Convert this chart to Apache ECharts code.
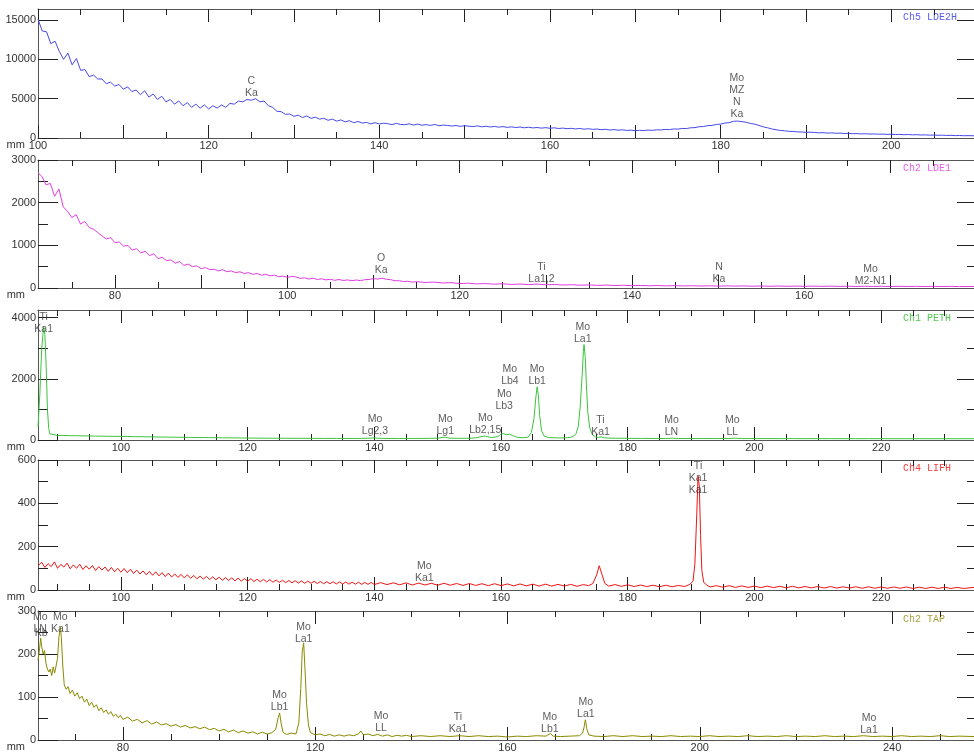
<!DOCTYPE html>
<html><head><meta charset="utf-8">
<script src="https://cdn.jsdelivr.net/npm/echarts@6/dist/echarts.min.js"></script>
<style>html,body{margin:0;padding:0;background:#fff}#c{width:974px;height:753px}</style>
</head><body><div id="c"></div><script>
// ---------- DATA (mm, counts) ----------
const ch5LDE2H = [[100,15100],[100.5,13600],[101,13500],[101.5,12000],[102,12300],[102.5,11000],[103,10000],[103.5,10800],[104,9300],[104.5,10100],[105,8600],[105.5,8700],[106,7800],[106.5,8000],[107,7500],[107.5,7500],[108,6900],[108.5,7100],[109,6600],[109.5,6800],[110,6200],[110.5,6500],[111,5900],[111.5,6100],[112,5500],[112.5,6000],[113,5200],[113.5,5600],[114,4900],[114.5,5300],[115,4600],[115.5,4900],[116,4300],[116.5,4700],[117,4100],[117.5,4500],[118,3900],[118.5,4300],[119,3800],[119.5,4200],[120,3700],[120.5,4100],[121,3800],[121.5,4200],[122,3900],[122.5,4400],[123,4300],[123.5,4700],[124,4600],[124.5,4900],[125,4800],[125.5,5000],[126,4600],[126.5,4700],[127,4100],[127.5,3900],[128,3400],[128.5,3350],[129,3000],[129.5,3050],[130,2750],[130.5,2900],[131,2600],[131.5,2800],[132,2500],[132.5,2650],[133,2400],[133.5,2500],[134,2250],[134.5,2400],[135,2150],[135.5,2300],[136,2050],[136.5,2200],[137,1950],[137.5,2100],[138,1900],[138.5,1980],[139,1800],[139.5,1950],[140,1780],[140.5,1880],[141,1820],[141.5,1700],[142,1860],[142.5,1720],[143,1690],[143.5,1800],[144,1650],[144.5,1760],[145,1620],[145.5,1700],[146,1600],[146.5,1720],[147,1560],[147.5,1640],[148,1600],[148.5,1520],[149,1580],[149.5,1480],[150,1560],[151,1450],[151.5,1540],[152,1420],[152.5,1500],[153,1400],[153.5,1470],[154,1380],[154.5,1450],[155,1350],[155.5,1420],[156,1330],[156.5,1400],[157,1300],[157.5,1370],[158,1280],[158.5,1340],[159,1250],[159.5,1320],[160,1230],[160.5,1300],[161,1200],[161.5,1260],[162,1180],[162.5,1230],[163,1150],[163.5,1210],[164,1120],[164.5,1180],[165,1100],[165.5,1140],[166,1060],[166.5,1110],[167,1020],[167.5,1070],[168,990],[168.5,1040],[169,960],[169.5,1000],[170,930],[170.5,980],[171,950],[171.5,1010],[172,970],[172.5,1040],[173,1020],[173.5,1090],[174,1070],[174.5,1150],[175,1130],[175.5,1210],[176,1200],[176.5,1300],[177,1320],[177.5,1440],[178,1460],[178.5,1580],[179,1600],[179.5,1720],[180,1760],[180.5,1900],[181,1950],[181.5,2120],[182,2150],[182.5,2080],[183,2000],[183.5,1850],[184,1760],[184.5,1600],[185,1420],[185.5,1300],[186,1150],[186.5,1050],[187,960],[187.5,920],[188,850],[188.5,830],[189,780],[189.5,760],[190,720],[190.5,740],[191,700],[191.5,660],[192,680],[192.5,630],[193,650],[193.5,600],[194,620],[194.5,570],[195,590],[195.5,540],[196,560],[196.5,520],[197,540],[197.5,500],[198,520],[198.5,480],[199,500],[199.5,460],[200,480],[200.5,440],[201,460],[201.5,420],[202,440],[202.5,400],[203,420],[203.5,380],[204,400],[204.5,360],[205,380],[205.5,340],[206,360],[206.5,320],[207,340],[207.5,300],[208,320],[208.5,290],[209,300],[209.7,280]];

const ch2LDE1 = [[71.07,2700],[71.5,2620],[72,2420],[72.5,2450],[73,2150],[73.5,2320],[74,1900],[74.5,1800],[75,1650],[75.5,1720],[76,1500],[76.5,1560],[77,1420],[77.5,1380],[78,1300],[78.5,1220],[79,1150],[79.5,1180],[80,1060],[80.5,1080],[81,980],[81.5,1000],[82,890],[82.5,920],[83,820],[83.5,860],[84,760],[84.5,800],[85,690],[85.5,720],[86,640],[86.5,660],[87,580],[87.5,620],[88,530],[88.5,560],[89,500],[89.5,520],[90,450],[90.5,480],[91,430],[91.5,440],[92,400],[92.5,430],[93,380],[93.5,400],[94,360],[94.5,380],[95,340],[95.5,360],[96,320],[96.5,340],[97,300],[97.5,320],[98,285],[98.5,300],[99,265],[99.5,280],[100,250],[100.5,270],[101,260],[101.5,225],[102,240],[102.5,210],[103,230],[103.5,200],[104,215],[104.5,190],[105,205],[105.5,180],[106,200],[106.5,175],[107,190],[107.5,170],[108,188],[108.5,172],[109,195],[109.5,200],[110,220],[110.5,210],[111,230],[111.5,205],[112,195],[112.5,170],[113,170],[113.5,150],[114,158],[114.5,138],[115,148],[116,130],[117,138],[118,118],[119,125],[120,105],[121,112],[122,96],[123,104],[124,90],[125,98],[126,84],[127,92],[128,80],[129,92],[130,76],[131,82],[132,70],[133,77],[134,66],[135,72],[136,62],[137,68],[138,58],[139,64],[140,55],[141,60],[142,52],[143,58],[144,50],[145,55],[146,48],[147,53],[148,46],[149,51],[150,45],[151,50],[152,44],[153,48],[154,42],[155,47],[156,41],[157,46],[158,40],[159,45],[160,39],[161,44],[162,38],[163,43],[164,37],[165,42],[166,36],[167,41],[168,36],[169,40],[170,35],[171,40],[172,35],[173,39],[174,34],[175,39],[176,34],[177,38],[178,33],[179.7,36]];

const ch1PETH = [[86.91,420],[87.2,1500],[87.5,3000],[87.8,3700],[88.0,3450],[88.2,2400],[88.4,1000],[88.6,380],[88.8,200],[89,160],[90,150],[91,148],[92,142],[93,140],[94,135],[95,132],[96,128],[97,126],[98,122],[99,120],[100,118],[101,114],[102,110],[103,108],[104,104],[105,100],[106,98],[107,95],[108,92],[109,90],[110,88],[111,85],[112,82],[113,80],[114,78],[115,75],[116,72],[117,70],[118,68],[119,66],[120,64],[121,62],[122,60],[124,58],[126,56],[128,55],[130,54],[132,52],[134,52],[136,50],[138,52],[139.5,62],[140,70],[140.5,58],[142,50],[144,50],[146,50],[148,52],[150,60],[150.7,85],[151.2,90],[151.8,62],[153,55],[154,55],[155,58],[156,70],[157,115],[157.4,130],[157.8,110],[158.5,80],[159.5,110],[160,190],[160.4,210],[160.8,170],[161.3,190],[161.8,150],[162.5,90],[163.5,75],[164.3,95],[164.8,250],[165.2,700],[165.5,1400],[165.7,1740],[165.9,1450],[166.1,800],[166.4,300],[166.8,130],[167.5,80],[168.5,70],[169.5,68],[170.5,75],[171.2,100],[171.8,180],[172.2,450],[172.5,1100],[172.8,2100],[173.0,2900],[173.1,3120],[173.3,2700],[173.5,1700],[173.7,900],[174.0,400],[174.4,180],[174.9,100],[175.4,85],[175.8,105],[176.2,75],[177,62],[178,58],[180,55],[182,52],[184,50],[186,50],[187,58],[188,50],[190,48],[192,48],[194,47],[196,50],[197,60],[198,48],[200,46],[202,46],[204,45],[206,46],[208,44],[210,45],[212,44],[214,44],[216,43],[218,44],[220,43],[222,43],[224,42],[226,43],[228,42],[230,42],[232,42],[234.66,42]];

const ch4LIFH = [[86.91,112],[87.5,128],[88,104],[88.5,122],[89,108],[89.5,130],[90,100],[90.5,118],[91,106],[91.5,124],[92,98],[92.5,116],[93,100],[93.5,119],[94,95],[94.5,112],[95,96],[95.5,113],[96,90],[96.5,108],[97,92],[97.5,106],[98,86],[98.5,104],[99,84],[99.5,100],[100,82],[100.5,99],[101,80],[101.5,96],[102,76],[102.5,92],[103,74],[103.5,88],[104,70],[104.5,86],[105,68],[105.5,84],[106,65],[106.5,80],[107,62],[107.5,78],[108,60],[108.5,74],[109,58],[109.5,72],[110,56],[110.5,70],[111,54],[111.5,67],[112,52],[112.5,64],[113,50],[113.5,63],[114,48],[114.5,61],[115,47],[115.5,59],[116,45],[116.5,57],[117,44],[117.5,56],[118,42],[118.5,55],[119,41],[119.5,53],[120,40],[120.5,52],[121,39],[121.5,50],[122,38],[122.5,49],[123,37],[123.5,48],[124,36],[124.5,46],[125,35],[125.5,45],[126,34],[126.5,44],[127,33],[127.5,43],[128,32],[128.5,42],[129,31],[129.5,41],[130,31],[130.5,40],[131,30],[131.5,39],[132,29],[132.5,38],[133,29],[133.5,38],[134,28],[134.5,37],[135,28],[135.5,37],[136,27],[136.5,36],[137,27],[137.5,36],[138,26],[138.5,35],[139,26],[139.5,35],[140,25],[141,34],[142,25],[143,33],[144,24],[145,33],[146,23],[147,32],[148,23],[149,31],[150,22],[151,31],[152,22],[153,30],[154,21],[155,30],[156,21],[157,29],[158,20],[159,29],[160,20],[161,28],[162,19],[163,28],[164,19],[165,27],[166,18],[167,27],[168,18],[169,26],[170,18],[171,26],[172,17],[173,25],[173.8,20],[174.5,30],[175.1,70],[175.5,112],[175.9,75],[176.4,30],[177,18],[178,25],[179,17],[180,24],[181,16],[182,23],[183,16],[184,22],[185,15],[186,22],[187,15],[188,21],[189,16],[189.8,26],[190.3,40],[190.6,120],[190.9,350],[191.1,525],[191.3,480],[191.5,250],[191.7,90],[192,35],[192.5,22],[193,14],[194,20],[195,13],[196,20],[197,12],[198,19],[199,12],[200,18],[201,11],[202,18],[203,11],[204,17],[205,10],[206,17],[207,10],[208,16],[209,10],[210,16],[211,9],[212,16],[213,9],[214,15],[215,9],[216,15],[217,8],[218,15],[219,8],[220,14],[221,8],[222,14],[223,8],[224,14],[225,7],[226,13],[227,7],[228,13],[229,7],[230,13],[231,7],[232,12],[233,7],[234.66,12]];

const ch2TAP = [[62.34,185],[62.6,205],[62.9,237],[63.1,218],[63.4,200],[63.7,208],[64.0,178],[64.3,165],[64.6,158],[64.9,165],[65.2,150],[65.5,170],[65.8,156],[66.1,172],[66.4,190],[66.7,240],[67.0,262],[67.2,238],[67.5,172],[67.8,128],[68.2,118],[68.6,124],[69,108],[69.5,116],[70,102],[70.5,110],[71,96],[71.5,102],[72,88],[72.5,95],[73,80],[73.5,88],[74,76],[74.5,82],[75,68],[75.5,75],[76,64],[76.5,70],[77,60],[77.5,66],[78,55],[78.5,60],[79,52],[79.5,57],[80,48],[81,53],[82,44],[83,48],[84,40],[85,45],[86,37],[87,42],[88,35],[89,38],[90,32],[91,36],[92,30],[93,34],[94,28],[95,31],[96,26],[97,30],[98,24],[99,27],[100,21],[101,25],[102,19],[103,23],[104,17],[105,21],[106,16],[107,19],[108,14],[109,18],[110,14],[111,17],[111.8,25],[112.3,52],[112.6,63],[112.9,40],[113.3,18],[114,13],[115,16],[116,14],[116.6,40],[117.0,120],[117.3,205],[117.6,226],[117.9,160],[118.2,85],[118.6,35],[119,17],[120,12],[121,14],[122,10],[123,13],[124,9],[125,12],[126,9],[127,12],[128,10],[129,14],[129.5,21],[130,12],[131,14],[132,10],[133,13],[134,9],[135,12],[136,8],[137,11],[138,9],[139,11],[140,8],[142,10],[144,8],[146,10],[148,8],[150,10],[152,8],[154,10],[156,8],[158,9],[160,7],[162,9],[164,8],[166,10],[168,9],[168.9,15],[169.5,9],[171,8],[173,9],[175,10],[175.6,16],[175.9,28],[176.2,47],[176.5,26],[176.9,12],[178,9],[180,8],[182,10],[184,8],[186,10],[188,8],[190,9],[192,8],[194,10],[196,8],[198,9],[200,8],[202,10],[204,8],[206,9],[208,8],[210,10],[212,8],[214,9],[216,8],[218,10],[220,8],[222,9],[224,8],[226,10],[228,8],[230,9],[232,8],[234,10],[236,8],[238,9],[240,8],[242,10],[244,8],[246,9],[248,8],[250,10],[252,8],[254,9],[257.04,8]];

// tick labels
const xLabels1 = [100,120,140,160,180,200];
const xLabels2 = [80,100,120,140,160];
const xLabels3 = [100,120,140,160,180,200,220];
const xLabels4 = [100,120,140,160,180,200,220];
const xLabels5 = [80,120,160,200,240];
const yLabels1 = [0,5000,10000,15000];
const yLabels2 = [0,1000,2000,3000];
const yLabels3 = [0,2000,4000];
const yLabels4 = [0,200,400,600];
const yLabels5 = [0,100,200,300];

// peak annotations: [mm, count level at text bottom, text]
const peaks1 = [[125,4950,'C\nKa'],[181.9,2290,'Mo\nMZ\nN\nKa']];
const peaks2 = [[110.9,280,'O\nKa'],[129.5,70,'Ti\nLa1,2'],[150.1,70,'N\nKa'],[167.7,25,'Mo\nM2-N1']];
const peaks3 = [[87.8,3420,'Ti\nKa1'],[140.1,100,'Mo\nLg2,3'],[151.2,100,'Mo\nLg1'],[157.5,130,'Mo\nLb2,15'],[160.5,910,'Mo\nLb3'],[161.4,1730,'Mo\nLb4'],[165.7,1730,'Mo\nLb1'],[172.9,3090,'Mo\nLa1'],[175.7,65,'Ti\nKa1'],[186.9,65,'Mo\nLN'],[196.5,65,'Mo\nLL']];
const peaks4 = [[147.9,28,'Mo\nKa1'],[191.1,433,'Ti\nKa1\nKa1']];
const peaks5 = [[62.8,244,'Mo\nLN'],[63.0,235,'\nKb'],[67.0,244,'Mo\nKa1'],[112.6,63,'Mo\nLb1'],[117.6,221,'Mo\nLa1'],[133.7,14,'Mo\nLL'],[149.7,12,'Ti\nKa1'],[168.8,12,'Mo\nLb1'],[176.3,47,'Mo\nLa1'],[235.2,9,'Mo\nLa1']];

// ---------- LAYOUT ----------
const panels = [
  {top:9,   height:129, xMin:100,   xMax:209.7,  yMax:16400, xMaj:10, xMin2:5,  xLab:xLabels1, yLab:yLabels1, yMinor:[], data:ch5LDE2H, peaks:peaks1, color:'#4848e8', tcolor:'#5a5af0', name:'Ch5 LDE2H'},
  {top:160, height:128, xMin:71.07, xMax:179.7,  yMax:3000,  xMaj:10, xMin2:5,  xLab:xLabels2, yLab:yLabels2, yMinor:[500,1500,2500], data:ch2LDE1, peaks:peaks2, color:'#e03ce0', tcolor:'#e860e8', name:'Ch2 LDE1'},
  {top:310, height:130, xMin:86.91, xMax:234.66, yMax:4250,  xMaj:20, xMin2:5,  xLab:xLabels3, yLab:yLabels3, yMinor:[1000,3000], data:ch1PETH, peaks:peaks3, color:'#3cc43c', tcolor:'#50c850', name:'Ch1 PETH'},
  {top:460, height:130, xMin:86.91, xMax:234.66, yMax:600,   xMaj:20, xMin2:5,  xLab:xLabels4, yLab:yLabels4, yMinor:[100,300,500], data:ch4LIFH, peaks:peaks4, color:'#ee1515', tcolor:'#ee4040', name:'Ch4 LIFH'},
  {top:611, height:129, xMin:62.34, xMax:257.04, yMax:300,   xMaj:40, xMin2:10, xLab:xLabels5, yLab:yLabels5, yMinor:[50,150,250], data:ch2TAP, peaks:peaks5, color:'#8a8a00', tcolor:'#a8a040', name:'Ch2 TAP'}
];

function mult(step, lo, hi) {
  const a = [];
  for (let k = Math.ceil(lo / step - 1e-9); k * step <= hi + 1e-9; k++) a.push(+(k * step).toFixed(6));
  return a;
}
const FONT = 'Liberation Sans';
const grid = [], xAxis = [], yAxis = [], series = [], graphic = [];
panels.forEach((p, i) => {
  grid.push({left:38, right:-1, top:p.top, height:p.height});
  const majX = mult(p.xMaj, p.xMin, p.xMax);
  const minX = mult(p.xMin2, p.xMin, p.xMax).filter(v => Math.abs(v / p.xMaj - Math.round(v / p.xMaj)) > 1e-6);
  const baseX = (pos, ticks, len, showLine) => ({
    type:'value', gridIndex:i, position:pos, min:p.xMin, max:p.xMax,
    splitLine:{show:false},
    axisLine:{show:showLine, onZero:false, lineStyle:{color:'#555', width:1}},
    axisTick:{show:true, inside:true, length:len, customValues:ticks, lineStyle:{color:'#222', width:1}},
    axisLabel:{show:false}
  });
  const xi = xAxis.length;
  const main = baseX('bottom', majX, 13, true);
  main.axisLabel = {show:true, customValues:p.xLab, formatter:v => String(v), margin:2, fontSize:11, color:'#333', fontFamily:FONT};
  main.name = 'mm';
  main.nameLocation = 'start';
  main.nameGap = 13;
  main.nameTextStyle = {fontSize:11, color:'#333', fontFamily:FONT, align:'right', verticalAlign:'top', padding:[1,0,0,0]};
  xAxis.push(main);
  xAxis.push(baseX('bottom', minX, 6, false));
  xAxis.push(baseX('top', majX, 13, true));
  xAxis.push(baseX('top', minX, 6, false));

  const baseY = (pos, ticks, len, showLine) => ({
    type:'value', gridIndex:i, position:pos, min:0, max:p.yMax,
    splitLine:{show:false},
    axisLine:{show:showLine, onZero:false, lineStyle:{color:'#555', width:1}},
    axisTick:{show:ticks.length > 0, inside:true, length:len, customValues:ticks, lineStyle:{color:'#222', width:1}},
    axisLabel:{show:false}
  });
  const yi = yAxis.length;
  const ymain = baseY('left', p.yLab, 20, true);
  ymain.axisLabel = {show:true, customValues:p.yLab, formatter:v => String(v), margin:2, fontSize:11, color:'#333', fontFamily:FONT};
  yAxis.push(ymain);
  yAxis.push(baseY('left', p.yMinor, 10, false));
  yAxis.push(baseY('right', p.yLab.filter(v => v > 0 && v < p.yMax), 17, true));
  yAxis.push(baseY('right', p.yMinor, 7, false));

  series.push({
    type:'line', xAxisIndex:xi, yAxisIndex:yi, data:p.data, showSymbol:false, symbol:'none',
    lineStyle:{color:p.color, width:1}, itemStyle:{color:p.color}, animation:false, z:3
  });
  series.push({
    type:'scatter', xAxisIndex:xi, yAxisIndex:yi, data:p.peaks, symbolSize:0,
    itemStyle:{color:'rgba(0,0,0,0)'}, animation:false, silent:true, z:4,
    label:{show:true, position:'top', distance:0, formatter:q => q.data[2], fontSize:10.5, lineHeight:12, color:'#333', fontFamily:FONT, align:'center'}
  });
  graphic.push({type:'text', left:903, top:p.top + 3, silent:true,
    style:{text:p.name, fill:p.tcolor, font:'10px "Liberation Mono"'}});
});

const chart = echarts.init(document.getElementById('c'), null, {renderer:'canvas'});
chart.setOption({animation:false, backgroundColor:'#fff', grid, xAxis, yAxis, series, graphic});
</script></body></html>
